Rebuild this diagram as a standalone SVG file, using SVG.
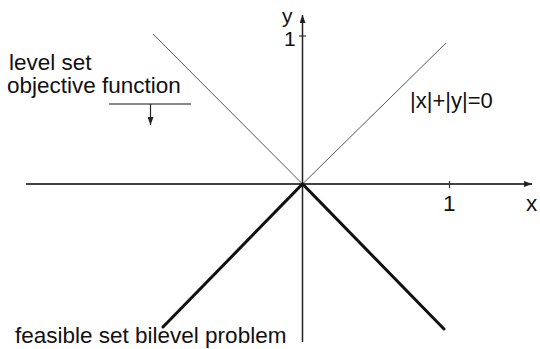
<svg xmlns="http://www.w3.org/2000/svg" width="540" height="349" viewBox="0 0 540 349">
<style>
  text { font-family: "Liberation Sans", Arial, sans-serif; fill: #111; }
  .lbl { font-size: 22.5px; }
  .thin { stroke: #555; stroke-width: 1; fill: none; }
  .thick { stroke: #111; stroke-width: 3; fill: none; stroke-linecap: round; }
  .axis { stroke: #444; stroke-width: 2; fill: none; }
  .tick { stroke: #333; stroke-width: 1.2; }
</style>
<defs>
  <marker id="ah" markerWidth="8" markerHeight="6" refX="8" refY="3" orient="auto" markerUnits="userSpaceOnUse">
    <path d="M0,0 L8,3 L0,6 Z" fill="#222"/>
  </marker>
</defs>
<g id="connectors">
  <line id="x-axis" class="axis" x1="26" y1="184" x2="532" y2="184" marker-end="url(#ah)"/>
  <line id="y-axis" x1="302.5" y1="342" x2="302.5" y2="15" stroke="#222" stroke-width="1.5" marker-end="url(#ah)"/>
  <line class="tick" x1="449.5" y1="181" x2="449.5" y2="188"/>
  <line class="tick" x1="299" y1="36" x2="306" y2="36"/>
  <line class="thin" x1="153" y1="34" x2="302.5" y2="184"/>
  <line class="thin" x1="302.5" y1="184" x2="446" y2="43"/>
  <polyline class="thick" points="163,327 302.5,184 444,329"/>
  <line x1="109" y1="104" x2="191" y2="104" stroke="#888" stroke-width="2"/>
  <line x1="150.5" y1="104" x2="150.5" y2="125" stroke="#222" stroke-width="1.2" marker-end="url(#ah)"/>
</g>
<g id="label-y"><text x="282" y="23" font-size="21">y</text></g>
<g id="label-y1"><text x="284" y="46" font-size="21">1</text></g>
<g id="label-x"><text x="526" y="211" class="lbl">x</text></g>
<g id="label-x1"><text x="443" y="211" class="lbl">1</text></g>
<g id="label-level"><text x="9" y="70" class="lbl">level set</text><text x="7" y="93" class="lbl">objective function</text></g>
<g id="label-abs"><text x="410" y="108" font-size="22">|x|+|y|=0</text></g>
<g id="label-feasible"><text x="15" y="343" class="lbl">feasible set bilevel problem</text></g>
</svg>
